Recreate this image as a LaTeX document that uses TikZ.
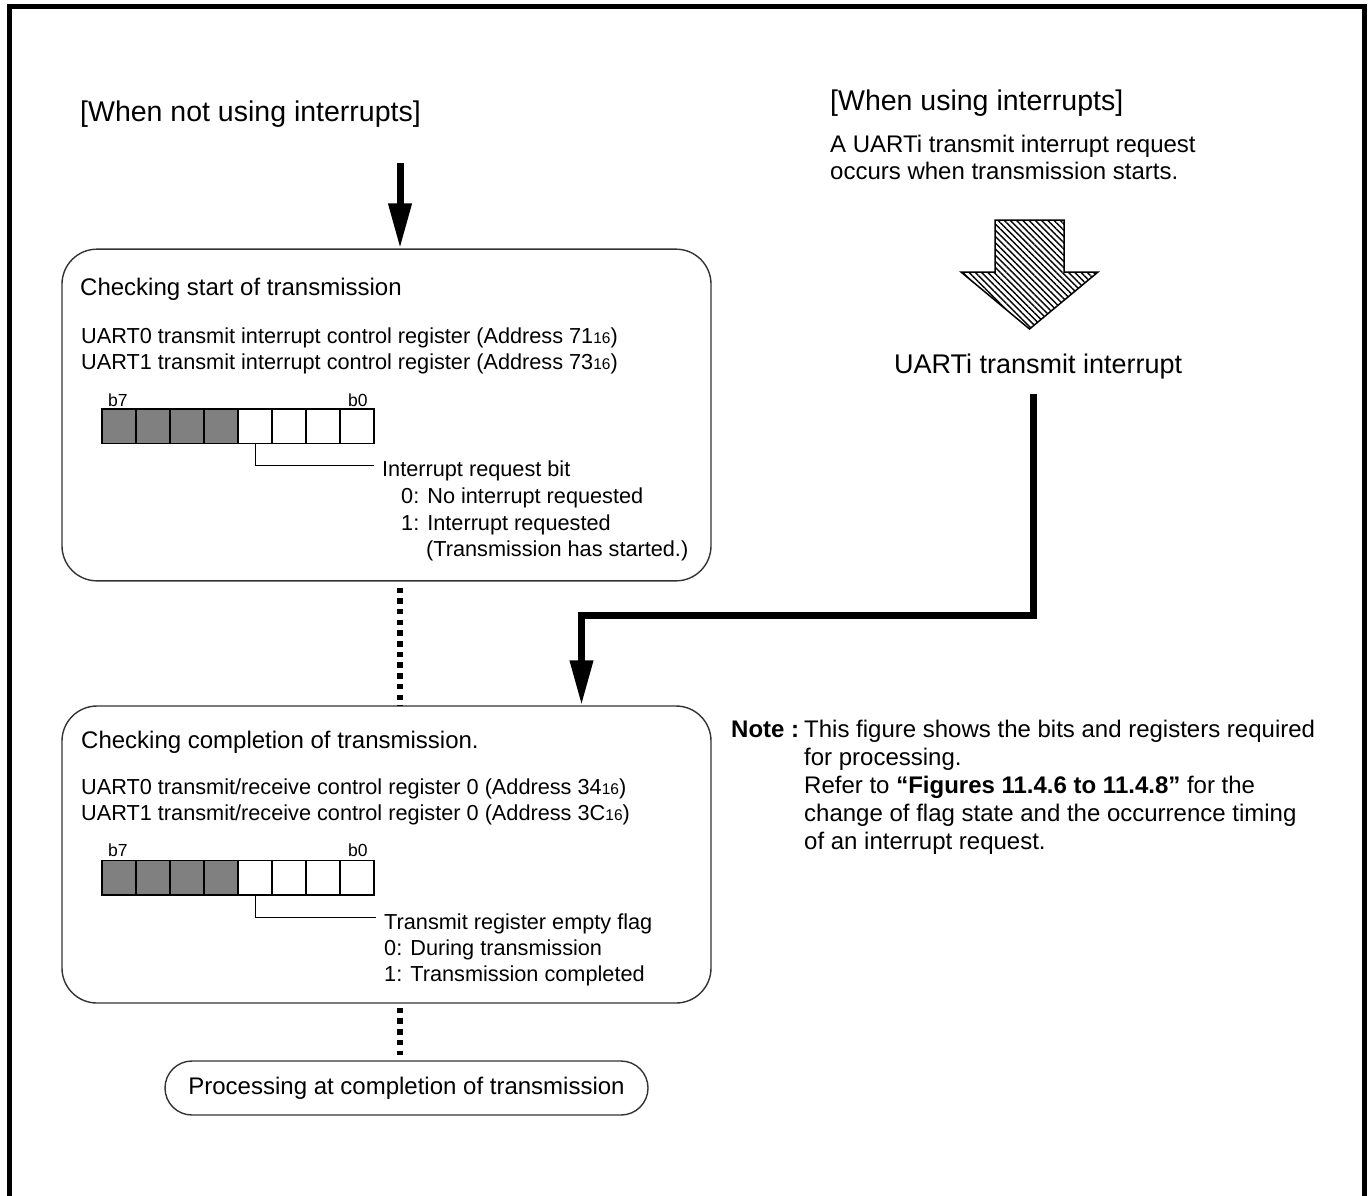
\documentclass[tikz,border=0pt]{standalone}
\usepackage{fontspec}
\setmainfont{Liberation Sans}
\usetikzlibrary{arrows.meta,patterns.meta}

\newcommand{\hexsub}[1]{\raisebox{-0.8pt}{\fontsize{15.5pt}{16pt}\selectfont #1}}

\begin{document}
\begin{tikzpicture}[x=1pt,y=-1pt]
	\tikzset{
		txt/.style={inner sep=0pt, anchor=base west, font=\fontsize{21.7pt}{26pt}\selectfont},
		midtxt/.style={txt, font=\fontsize{24pt}{28pt}\selectfont},
		bigtxt/.style={txt, font=\fontsize{28.5pt}{34pt}\selectfont},
		bittxt/.style={txt, font=\fontsize{17.5pt}{20pt}\selectfont},
		checkbox/.style={draw=black!80, line width=1.4pt, rounded corners=35pt, minimum width=649pt},
		flow/.style={line width=7pt, line join=miter, -{Triangle[width=22pt,length=45pt]}},
		dots/.style={line width=6pt, dash pattern=on 5.5pt off 5.2pt},
		regline/.style={line width=1.5pt},
		leader/.style={line width=1pt}
	}
	\useasboundingbox (0,0) rectangle (1372,1195);
	
	% outer frame
	\draw[line width=5pt, line join=miter] (9,1200) -- (9,6) -- (1364.5,6) -- (1364.5,1200);
	
	% headings
	\node[bigtxt] (noint) at (80,121) {[When not using interrupts]};
	\node[bigtxt] (withint) at (830,110) {[When using interrupts]};
	\node[midtxt] (occur1) at (830,152) {A UARTi transmit interrupt request};
	\node[midtxt] (occur2) at (830,179) {occurs when transmission starts.};
	
	% hatched arrow
	\draw[line width=1.5pt, pattern={Lines[angle=-45,distance=4.4pt,line width=1.4pt]}]
	(995,220) -- (1064,220) -- (1064,272) -- (1098,272) -- (1029.5,329) -- (961,272) -- (995,272) -- cycle;
	\node[txt, font=\fontsize{27pt}{31pt}\selectfont] (uartint) at (894,373) {UARTi transmit interrupt};
	
	% check boxes
	\node[checkbox, minimum height=331.7pt] (startbox) at (386.5,415) {};
	\node[checkbox, minimum height=297pt] (donebox) at (386.5,854.5) {};
	\node[draw=black!80, line width=1.4pt, rounded corners=27pt, minimum width=483pt, minimum height=54pt,
	font=\fontsize{24pt}{28pt}\selectfont] (procbox) at (406.5,1088) {Processing at completion of transmission};
	
	% connectors
	\coordinate (topin) at (400,163);
	\draw[flow] (topin) -- (topin |- startbox.north);
	\draw[dots, shorten <=6pt] (topin |- startbox.south) -- (topin |- donebox.north);
	\draw[dots, shorten <=4pt, shorten >=5pt] (topin |- donebox.south) -- (topin |- procbox.north);
	\coordinate (intsrc) at (1033.5,394);
	\coordinate (intturn) at (581.5,615);
	\draw[flow] (intsrc) |- (intturn) -- (intturn |- donebox.north);
	
	% start of transmission
	\node[midtxt] (startttl) at (80,295) {Checking start of transmission};
	\node[txt] (tic0) at (81,343) {UART0 transmit interrupt control register (Address 71\hexsub{16})};
	\node[txt] (tic1) at (81,369) {UART1 transmit interrupt control register (Address 73\hexsub{16})};
	\node[bittxt] (sb7) at (108,406.5) {b7};
	\node[bittxt] (sb0) at (348,406.5) {b0};
	\fill[gray] (102,409) rectangle (238,443.5);
	\draw[regline] (102,409) rectangle (374,443.5);
	\draw[regline] (136,409) -- (136,443.5) (170,409) -- (170,443.5) (204,409) -- (204,443.5) (238,409) -- (238,443.5)
	(272,409) -- (272,443.5) (306,409) -- (306,443.5) (340,409) -- (340,443.5);
	\draw[leader] (255,443.5) |- (374,465);
	\node[txt] (irbit) at (382,476) {Interrupt request bit};
	\node[txt] (irbit0) at (401,503) {0: No interrupt requested};
	\node[txt] (irbit1) at (401,530) {1: Interrupt requested};
	\node[txt] (irbit2) at (426,556) {(Transmission has started.)};
	
	% completion of transmission
	\node[midtxt] (donettl) at (81,748) {Checking completion of transmission.};
	\node[txt] (trc0) at (81,794) {UART0 transmit/receive control register 0 (Address 34\hexsub{16})};
	\node[txt] (trc1) at (81,820) {UART1 transmit/receive control register 0 (Address 3C\hexsub{16})};
	\node[bittxt] (db7) at (108,856) {b7};
	\node[bittxt] (db0) at (348,856) {b0};
	\fill[gray] (102,860.5) rectangle (238,895);
	\draw[regline] (102,860.5) rectangle (374,895);
	\draw[regline] (136,860.5) -- (136,895) (170,860.5) -- (170,895) (204,860.5) -- (204,895) (238,860.5) -- (238,895)
	(272,860.5) -- (272,895) (306,860.5) -- (306,895) (340,860.5) -- (340,895);
	\draw[leader] (255,895) |- (376,917);
	\node[txt] (txflag) at (384,929) {Transmit register empty flag};
	\node[txt] (txflag0) at (384,955) {0: During transmission};
	\node[txt] (txflag1) at (384,981) {1: Transmission completed};
	
	% note
	\node[midtxt, font=\fontsize{24pt}{28pt}\selectfont\bfseries] (notehd) at (731,737) {Note :};
	\node[midtxt] (note1) at (804,737) {This figure shows the bits and registers required};
	\node[midtxt] (note2) at (804,765) {for processing.};
	\node[midtxt] (note3) at (804,793) {Refer to \textbf{“Figures 11.4.6 to 11.4.8”} for the};
	\node[midtxt] (note4) at (804,821) {change of flag state and the occurrence timing};
	\node[midtxt] (note5) at (804,849) {of an interrupt request.};
	
\end{tikzpicture}
\end{document}
